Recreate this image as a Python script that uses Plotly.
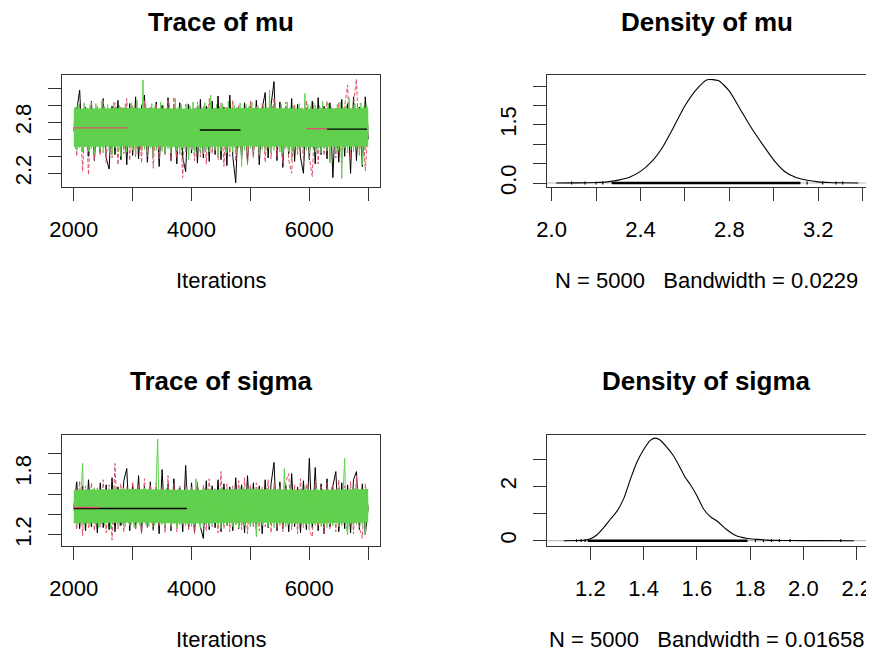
import plotly.graph_objects as go

# ---------------- data ----------------
BLACK, RED, GREEN = "#000000", "#DF536B", "#61D04F"

iters_50 = list(range(2000, 7001, 50))   # chains 1 and 2 (thinned reading)
iters_25 = list(range(2000, 7001, 25))   # chain 3 (drawn on top, denser reading)
core_iters = [2000, 3000, 4000, 5000, 6000, 7000]

mu_chain1 = [2.70, 2.95, 3.18, 2.45, 2.98, 2.40, 3.05, 2.35, 2.96, 2.44,
             3.08, 2.38, 2.25, 2.99, 2.42, 3.06, 2.36, 2.97, 2.30, 3.02,
             2.41, 3.10, 2.37, 2.98, 3.12, 2.33, 2.95, 2.40, 3.04, 2.28,
             3.00, 2.43, 3.09, 2.35, 2.97, 2.31, 3.03, 2.39, 2.22, 3.01,
             2.44, 2.96, 2.32, 3.07, 2.38, 2.99, 2.34, 3.05, 2.42, 3.11,
             2.36, 2.98, 2.29, 3.12, 2.40, 2.09, 2.97, 2.37, 3.03, 2.33,
             2.99, 2.41, 3.06, 2.30, 2.96, 3.15, 2.38, 3.00, 3.28, 2.35,
             3.04, 2.27, 2.98, 2.43, 3.08, 2.34, 3.01, 2.39, 2.20, 2.97,
             2.36, 3.05, 2.31, 3.09, 2.42, 2.99, 2.37, 3.03, 2.15, 2.96,
             2.33, 3.07, 2.40, 3.02, 2.20, 3.10, 2.35, 2.98, 2.28, 3.10,
             2.60]
mu_chain2 = [2.74, 2.40, 3.02, 2.22, 2.97, 2.18, 3.04, 2.36, 2.99, 2.41,
             3.06, 2.33, 2.95, 2.38, 3.03, 2.30, 2.98, 2.43, 3.08, 2.35,
             3.00, 2.39, 2.96, 2.32, 3.05, 2.40, 2.99, 2.26, 3.02, 2.37,
             2.97, 2.42, 3.07, 2.34, 3.10, 2.38, 2.98, 2.15, 3.01, 2.41,
             2.96, 2.35, 3.04, 2.39, 2.99, 2.31, 3.08, 2.43, 2.97, 2.36,
             3.03, 2.28, 2.98, 2.40, 3.06, 2.34, 3.00, 2.42, 2.96, 2.30,
             3.05, 2.38, 2.99, 2.41, 3.02, 2.33, 2.97, 2.37, 3.09, 2.40,
             2.98, 2.32, 3.04, 2.36, 2.20, 3.01, 2.42, 2.97, 2.35, 3.06,
             2.39, 2.16, 3.00, 2.31, 2.98, 2.41, 3.05, 2.34, 2.97, 2.38,
             3.03, 2.30, 2.99, 3.24, 2.37, 3.02, 3.31, 2.40, 2.96, 2.23,
             2.75]
mu_chain3 = [2.72, 2.98, 2.47, 3.01, 2.50, 2.95, 2.45, 3.03, 2.52, 2.97,
             2.46, 3.00, 2.49, 2.94, 2.43, 3.02, 2.51, 2.96, 2.48, 3.05,
             2.44, 2.99, 2.53, 3.01, 2.47, 2.93, 2.42, 3.04, 2.50, 2.98,
             2.46, 3.00, 2.40, 2.97, 2.52, 3.02, 2.45, 2.95, 2.49, 3.03,
             2.47, 2.98, 2.43, 3.06, 2.51, 2.96, 2.44, 3.30, 2.48, 3.01,
             2.45, 2.97, 2.50, 3.02, 2.38, 2.99, 2.47, 2.94, 2.52, 3.04,
             2.46, 3.00, 2.43, 2.97, 2.49, 3.03, 2.44, 2.95, 2.51, 3.08,
             2.47, 2.98, 2.42, 3.01, 2.50, 2.96, 2.45, 3.02, 2.36, 2.99,
             2.48, 3.04, 2.44, 2.97, 2.51, 3.00, 2.46, 2.95, 2.43, 3.03,
             2.49, 2.98, 2.45, 3.12, 2.50, 2.96, 2.47, 3.01, 2.41, 2.99,
             2.46, 3.02, 2.52, 2.97, 2.44, 3.05, 2.48, 2.94, 2.45, 3.00,
             2.43, 2.98, 2.50, 3.03, 2.28, 2.96, 2.47, 3.01, 2.44, 2.99,
             2.49, 3.04, 2.45, 2.97, 2.51, 3.00, 2.42, 2.95, 2.48, 3.02,
             2.46, 2.98, 2.50, 3.18, 2.44, 2.99, 2.47, 3.03, 2.52, 2.96,
             2.45, 3.01, 2.43, 2.97, 2.49, 3.04, 2.46, 2.98, 2.35, 3.00,
             2.48, 2.95, 2.44, 3.02, 2.51, 2.97, 2.46, 3.14, 2.47, 3.01,
             2.43, 2.99, 2.50, 3.03, 2.45, 2.96, 2.48, 3.00, 2.44, 3.05,
             2.49, 2.97, 2.46, 3.02, 2.32, 2.98, 2.51, 2.95, 2.45, 3.01,
             2.47, 3.04, 2.14, 2.97, 2.50, 3.00, 2.44, 3.09, 2.48, 2.96,
             2.45, 3.02, 2.49, 2.98, 2.43, 3.03, 2.30, 2.99, 2.47, 3.00,
             2.70]
# dense region where all three chains overlap (solid green in the picture)
mu_core_lo = [2.51, 2.52, 2.51, 2.52, 2.51, 2.52]
mu_core_hi = [2.96, 2.97, 2.96, 2.97, 2.96, 2.97]

sigma_chain1 = [1.46, 1.72, 1.26, 1.68, 1.24, 1.74, 1.28, 1.66, 1.22, 1.71,
                1.27, 1.69, 1.25, 1.76, 1.23, 1.67, 1.29, 1.73, 1.85, 1.24,
                1.70, 1.26, 1.78, 1.22, 1.68, 1.28, 1.72, 1.25, 1.67, 1.21,
                1.84, 1.27, 1.70, 1.24, 1.75, 1.29, 1.66, 1.23, 1.88, 1.26,
                1.71, 1.22, 1.69, 1.28, 1.165, 1.73, 1.25, 1.68, 1.27, 1.74,
                1.23, 1.70, 1.29, 1.67, 1.24, 1.76, 1.26, 1.69, 1.22, 1.78,
                1.28, 1.71, 1.25, 1.68, 1.21, 1.74, 1.27, 1.70, 1.91, 1.24,
                1.72, 1.26, 1.69, 1.23, 1.80, 1.28, 1.67, 1.22, 1.73, 1.25,
                1.95, 1.27, 1.86, 1.24, 1.70, 1.21, 1.75, 1.28, 1.68, 1.82,
                1.23, 1.71, 1.26, 1.69, 1.22, 1.74, 1.82, 1.25, 1.70, 1.20,
                1.47]
sigma_chain2 = [1.47, 1.25, 1.73, 1.19, 1.68, 1.27, 1.71, 1.24, 1.66, 1.28,
                1.74, 1.22, 1.69, 1.148, 1.90, 1.26, 1.70, 1.23, 1.67, 1.29,
                1.72, 1.25, 1.68, 1.21, 1.75, 1.27, 1.69, 1.24, 1.71, 1.28,
                1.66, 1.22, 1.78, 1.26, 1.70, 1.23, 1.68, 1.29, 1.73, 1.25,
                1.67, 1.21, 1.72, 1.27, 1.69, 1.24, 1.75, 1.28, 1.66, 1.22,
                1.82, 1.26, 1.70, 1.23, 1.68, 1.29, 1.73, 1.25, 1.76, 1.21,
                1.69, 1.27, 1.71, 1.24, 1.67, 1.28, 1.74, 1.22, 1.70, 1.26,
                1.68, 1.23, 1.72, 1.80, 1.25, 1.69, 1.21, 1.75, 1.27, 1.70,
                1.24, 1.18, 1.73, 1.28, 1.67, 1.22, 1.71, 1.26, 1.69, 1.23,
                1.74, 1.29, 1.68, 1.25, 1.72, 1.21, 1.78, 1.27, 1.165, 1.70,
                1.46]
sigma_chain3 = [1.46, 1.63, 1.30, 1.61, 1.32, 1.65, 1.90, 1.29, 1.62, 1.31,
                1.64, 1.28, 1.60, 1.33, 1.66, 1.30, 1.62, 1.27, 1.63, 1.31,
                1.65, 1.29, 1.61, 1.32, 1.64, 1.26, 1.62, 1.30, 1.67, 1.33,
                1.60, 1.29, 1.63, 1.31, 1.66, 1.28, 1.61, 1.32, 1.64, 1.30,
                1.62, 1.27, 1.65, 1.31, 1.63, 1.29, 1.60, 1.33, 1.66, 1.30,
                1.62, 1.28, 1.64, 1.31, 1.61, 1.29, 1.65, 2.14, 1.32, 1.63,
                1.30, 1.61, 1.28, 1.66, 1.32, 1.62, 1.29, 1.64, 1.31, 1.60,
                1.27, 1.65, 1.30, 1.63, 1.33, 1.61, 1.29, 1.67, 1.31, 1.62,
                1.28, 1.64, 1.30, 1.75, 1.32, 1.61, 1.27, 1.63, 1.29, 1.66,
                1.31, 1.62, 1.28, 1.65, 1.30, 1.60, 1.33, 1.64, 1.29, 1.62,
                1.26, 1.66, 1.31, 1.63, 1.29, 1.61, 1.32, 1.65, 1.28, 1.64,
                1.30, 1.62, 1.27, 1.67, 1.31, 1.63, 1.29, 1.61, 1.32, 1.66,
                1.28, 1.64, 1.30, 1.62, 1.18, 1.65, 1.31, 1.60, 1.29, 1.63,
                1.32, 1.66, 1.28, 1.61, 1.30, 1.64, 1.27, 1.62, 1.31, 1.65,
                1.29, 1.63, 1.32, 1.85, 1.28, 1.61, 1.30, 1.66, 1.27, 1.64,
                1.31, 1.62, 1.29, 1.65, 1.33, 1.63, 1.28, 1.67, 1.30, 1.61,
                1.27, 1.64, 1.31, 1.62, 1.29, 1.66, 1.32, 1.63, 1.28, 1.65,
                1.30, 1.61, 1.27, 1.64, 1.31, 1.67, 1.29, 1.62, 1.32, 1.66,
                1.28, 1.63, 1.30, 1.65, 1.95, 1.29, 1.20, 1.62, 1.31, 1.64,
                1.27, 1.66, 1.30, 1.61, 1.32, 1.64, 1.29, 1.63, 1.20, 1.62,
                1.45]
sigma_core_lo = [1.31, 1.32, 1.31, 1.32, 1.31, 1.32]
sigma_core_hi = [1.64, 1.65, 1.64, 1.65, 1.64, 1.65]

# flat stretches visible in the traces: (chain colour, first iter, last iter, value)
mu_flat = [(RED, 2000, 2930, 2.735), (BLACK, 4140, 4830, 2.71),
           (RED, 5950, 6300, 2.725), (BLACK, 6300, 6980, 2.72)]
sigma_flat = [(BLACK, 2000, 3920, 1.458), (RED, 2000, 2440, 1.468)]

# kernel density estimates
mu_dens_x = [2.02, 2.10, 2.15, 2.20, 2.25, 2.30, 2.35, 2.40, 2.45, 2.50, 2.55, 2.60, 2.65,
             2.70, 2.75, 2.80, 2.85, 2.90, 2.95, 3.00, 3.05, 3.10, 3.15, 3.20, 3.25, 3.30, 3.38]
mu_dens_y = [0.0, 0.003, 0.006, 0.012, 0.03, 0.075, 0.15, 0.30, 0.55, 0.93, 1.45, 1.99, 2.40,
             2.66, 2.64, 2.37, 1.89, 1.41, 0.99, 0.59, 0.29, 0.14, 0.07, 0.03, 0.012, 0.005, 0.0]
sigma_dens_x = [1.10, 1.15, 1.18, 1.20, 1.225, 1.25, 1.275, 1.30, 1.325, 1.35, 1.375, 1.40,
                1.425, 1.445, 1.46, 1.485, 1.51, 1.535, 1.555, 1.575, 1.60, 1.625, 1.65,
                1.68, 1.71, 1.75, 1.785, 1.825, 1.86, 1.90, 1.95, 2.05, 2.19]
sigma_dens_y = [0.0, 0.005, 0.02, 0.07, 0.22, 0.48, 0.79, 1.09, 1.55, 2.26, 2.90, 3.36,
                3.70, 3.78, 3.72, 3.47, 3.16, 2.73, 2.35, 2.07, 1.66, 1.17, 0.89,
                0.69, 0.42, 0.17, 0.09, 0.05, 0.02, 0.01, 0.006, 0.002, 0.0]

# observations shown along the density baseline: dense span and isolated values
mu_obs_span = [2.27, 3.12]
mu_obs_sparse = [2.09, 2.15, 2.20, 2.23, 3.15, 3.22, 3.28, 3.31]
sigma_obs_span = [1.19, 1.79]
sigma_obs_sparse = [1.148, 1.165, 1.18, 1.82, 1.85, 1.88, 1.91, 1.95, 2.14]

titles = ["Trace of mu", "Density of mu", "Trace of sigma", "Density of sigma"]
xlabels = ["Iterations", "N = 5000   Bandwidth = 0.0229",
           "Iterations", "N = 5000   Bandwidth = 0.01658"]

trace_x_ticks = [2000, 3000, 4000, 5000, 6000, 7000]
trace_x_text = ["2000", "", "4000", "", "6000", ""]
mu_y_ticks = [2.2, 2.4, 2.6, 2.8, 3.0, 3.2]
mu_y_text = ["2.2", "", "", "2.8", "", ""]
mu_dx_ticks = [2.0, 2.2, 2.4, 2.6, 2.8, 3.0, 3.2, 3.4]
mu_dx_text = ["2.0", "", "2.4", "", "2.8", "", "3.2", ""]
mu_dy_ticks = [0.0, 0.5, 1.0, 1.5, 2.0, 2.5]
mu_dy_text = ["0.0", "", "", "1.5", "", ""]
sigma_y_ticks = [1.2, 1.4, 1.6, 1.8, 2.0]
sigma_y_text = ["1.2", "", "", "1.8", ""]
sigma_dx_ticks = [1.2, 1.4, 1.6, 1.8, 2.0, 2.2]
sigma_dx_text = ["1.2", "1.4", "1.6", "1.8", "2.0", "2.2"]
sigma_dy_ticks = [0, 1, 2, 3]
sigma_dy_text = ["0", "", "2", ""]

# ---------------- figure ----------------
PAGE_OFF = 8                      # default <body> margin of the written page
W, H = 874 - PAGE_OFF, 651 - PAGE_OFF
FONT = "Liberation Sans, Arial, sans-serif"

def fx(p):
    return (p - PAGE_OFF) / W

def fy(p):
    return 1 - (p - PAGE_OFF) / H

fig = go.Figure()

def add_trace_panel(n, c1, c2, c3, core_lo, core_hi, flats):
    xa, ya = ("x" if n == 1 else f"x{n}"), ("y" if n == 1 else f"y{n}")
    fig.add_trace(go.Scatter(x=iters_50, y=c1, mode="lines", xaxis=xa, yaxis=ya,
                             line=dict(color=BLACK, width=1), hoverinfo="skip"))
    fig.add_trace(go.Scatter(x=iters_50, y=c2, mode="lines", xaxis=xa, yaxis=ya,
                             line=dict(color=RED, width=1, dash="4px,2px"), hoverinfo="skip"))
    fig.add_trace(go.Scatter(x=core_iters, y=core_lo, mode="lines", xaxis=xa, yaxis=ya,
                             line=dict(color=GREEN, width=0), hoverinfo="skip"))
    fig.add_trace(go.Scatter(x=core_iters, y=core_hi, mode="lines", xaxis=xa, yaxis=ya,
                             fill="tonexty", fillcolor=GREEN,
                             line=dict(color=GREEN, width=0), hoverinfo="skip"))
    fig.add_trace(go.Scatter(x=iters_25, y=c3, mode="lines", xaxis=xa, yaxis=ya,
                             line=dict(color=GREEN, width=1), hoverinfo="skip"))
    for col, a, b, v in flats:
        fig.add_trace(go.Scatter(x=[a, b], y=[v, v], mode="lines", xaxis=xa, yaxis=ya,
                                 line=dict(color=col, width=1.4), hoverinfo="skip"))

def add_density_panel(n, dx, dy, span, sparse):
    xa, ya = f"x{n}", f"y{n}"
    fig.add_shape(type="line", xref=f"{xa} domain", yref=ya, x0=0, x1=1, y0=0, y1=0,
                  line=dict(color="#BEBEBE", width=1.2), layer="below")
    fig.add_trace(go.Scatter(x=dx, y=dy, mode="lines", xaxis=xa, yaxis=ya,
                             line=dict(color="black", width=1.1, shape="spline", smoothing=0.6),
                             hoverinfo="skip"))
    fig.add_trace(go.Scatter(x=span, y=[0, 0], mode="lines", xaxis=xa, yaxis=ya,
                             line=dict(color="black", width=2.6), hoverinfo="skip"))
    fig.add_trace(go.Scatter(x=sparse, y=[0] * len(sparse), mode="markers", xaxis=xa, yaxis=ya,
                             marker=dict(symbol="line-ns", size=2, line=dict(color="black", width=1.2)),
                             hoverinfo="skip"))

add_trace_panel(1, mu_chain1, mu_chain2, mu_chain3, mu_core_lo, mu_core_hi, mu_flat)
add_density_panel(2, mu_dens_x, mu_dens_y, mu_obs_span, mu_obs_sparse)
add_trace_panel(3, sigma_chain1, sigma_chain2, sigma_chain3, sigma_core_lo, sigma_core_hi, sigma_flat)
add_density_panel(4, sigma_dens_x, sigma_dens_y, sigma_obs_span, sigma_obs_sparse)

LEFT_X = [fx(62), fx(380)]
RIGHT_X = [fx(547), fx(866)]
TOP_Y = [fy(187), fy(75)]
BOT_Y = [fy(546), fy(435)]

def axis(domain, rng, vals, text, anchor, is_y=False):
    d = dict(domain=domain, range=rng, tickmode="array", tickvals=vals, ticktext=text,
             anchor=anchor, showline=True, mirror=True, linecolor="#333", linewidth=1,
             ticks="outside", ticklen=13, tickwidth=1, tickcolor="#333",
             showgrid=False, zeroline=False, fixedrange=True, automargin=False,
             tickfont=dict(family=FONT, size=22, color="black"))
    if is_y:
        d.update(tickangle=-90, ticklabelstandoff=8)
    else:
        d.update(ticklabelstandoff=10)
    return d

fig.update_layout(
    width=W, height=H, margin=dict(l=0, r=0, t=0, b=0, pad=0, autoexpand=False),
    paper_bgcolor="white", plot_bgcolor="white", showlegend=False,
    font=dict(family=FONT, color="black"),
    xaxis=axis(LEFT_X, [1800, 7200], trace_x_ticks, trace_x_text, "y"),
    yaxis=axis(TOP_Y, [2.039, 3.357], mu_y_ticks, mu_y_text, "x", True),
    xaxis2=axis(RIGHT_X, [1.979, 3.415], mu_dx_ticks, mu_dx_text, "y2"),
    yaxis2=axis(TOP_Y, [-0.103, 2.784], mu_dy_ticks, mu_dy_text, "x2", True),
    xaxis3=axis(LEFT_X, [1800, 7200], trace_x_ticks, trace_x_text, "y3"),
    yaxis3=axis(BOT_Y, [1.090, 2.179], sigma_y_ticks, sigma_y_text, "x3", True),
    xaxis4=axis(RIGHT_X, [1.037, 2.235], sigma_dx_ticks, sigma_dx_text, "y4"),
    yaxis4=axis(BOT_Y, [-0.196, 3.897], sigma_dy_ticks, sigma_dy_text, "x4", True),
)

centers_x = [221, 706.5, 221, 706.5]
title_y = [22, 22, 381, 381]
label_y = [281, 281, 639, 639]
for i in range(4):
    fig.add_annotation(text=f"<b>{titles[i]}</b>", xref="paper", yref="paper",
                       x=fx(centers_x[i]), y=fy(title_y[i]), xanchor="center", yanchor="middle",
                       showarrow=False, font=dict(family=FONT, size=26, color="black"))
    fig.add_annotation(text=xlabels[i].replace("   ", "\u00a0\u00a0\u00a0"), xref="paper", yref="paper",
                       x=fx(centers_x[i]), y=fy(label_y[i]), xanchor="center", yanchor="middle",
                       showarrow=False, font=dict(family=FONT, size=22, color="black"))

fig.write_html("out.html")
